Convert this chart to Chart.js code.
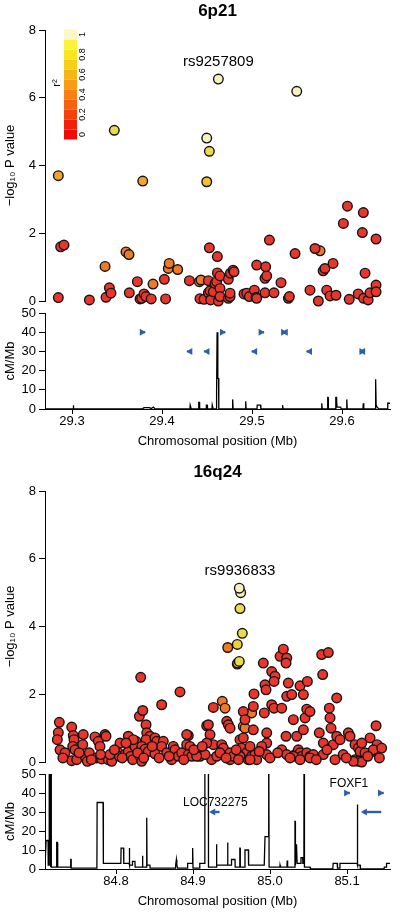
<!DOCTYPE html>
<html>
<head>
<meta charset="utf-8">
<script src="https://cdn.jsdelivr.net/npm/chart.js@4.4.1/dist/chart.umd.min.js"></script>
<style>
    html, body { margin: 0; padding: 0; background: #fff; }
    #wrap { position: relative; width: 400px; height: 913px; overflow: hidden; }
    canvas { position: absolute; left: 0; }
</style>
</head>
<body>
<div id="wrap">
    <canvas id="assoc1" width="400" height="320" style="top:0px;z-index:1"></canvas>
    <canvas id="recomb1" width="400" height="150" style="top:300px;z-index:2"></canvas>
    <canvas id="assoc2" width="400" height="320" style="top:460px;z-index:1"></canvas>
    <canvas id="recomb2" width="400" height="150" style="top:760px;z-index:2"></canvas>
</div>
<script>
// ---------- 6p21 ----------
var pos1 = [
    29.2848,29.2874,29.2911,29.3193,29.3378,29.3415,29.3433,29.3637,29.3726,29.3756,
    29.3774,29.3800,29.3822,29.3880,29.4026,29.4040,29.4304,29.4422,29.4467,29.4526,
    29.4515,29.4515,29.4533,29.4540,29.4570,29.4589,29.4607,29.4615,29.4615,29.4626,
    29.4644,29.4644,29.4644,29.4737,29.4737,29.4756,29.4756,29.4760,29.4790,29.4800,
    29.4911,29.4941,29.4970,29.5026,29.5044,29.5052,29.5052,29.5144,29.5163,29.5152,
    29.5144,29.5193,29.5244,29.5322,29.5404,29.5415,29.5478,29.5644,29.5700,29.5737,
    29.5790,29.5810,29.5830,29.5867,29.5900,29.5933,29.6015,29.6060,29.6080,29.6180,
    29.6226,29.6237,29.6240,29.6256,29.6290,29.6310,29.6378,29.6378,29.6378
];
var logp1 = [
    0.10,1.60,1.65,0.03,0.11,0.39,0.23,0.24,0.57,0.06,
    0.08,0.21,0.13,0.06,0.64,0.06,0.60,0.07,0.05,1.57,
    0.24,0.60,0.30,0.03,0.27,0.52,0.57,1.31,0.83,0.00,
    0.74,0.37,0.13,0.64,0.08,0.13,0.23,0.82,0.91,0.86,
    0.21,0.23,0.13,0.32,0.11,1.06,0.08,0.67,0.74,1.01,
    0.24,1.80,0.24,0.54,0.08,0.13,1.40,0.32,1.55,0.00,
    0.89,0.96,0.32,0.15,1.11,0.17,2.29,2.80,0.05,0.21,
    2.02,2.61,0.08,0.82,0.03,0.24,1.83,0.47,0.27
];
var ldPos1  = [29.2848,29.3367,29.3470,29.3600,29.3633,29.3786,29.3900,29.4070,29.4080,29.4174,29.4415,29.4433,29.5756,29.4497,29.4497,29.4526,29.5497,29.4626];
var ldLogp1 = [3.70,1.02,5.04,1.45,1.37,3.54,0.50,0.96,1.11,0.93,0.57,0.62,1.48,4.81,3.52,4.42,6.19,6.55];
var ldR2_1  = [0.5,0.3,0.8,0.3,0.3,0.5,0.3,0.3,0.3,0.3,0.3,0.3,0.3,1.0,0.65,0.8,1.0,1.0];

var recPos1 = [
    29.27,29.3012,29.3013,29.3018,29.3019,29.378,29.380,29.386,29.388,29.3905,29.391,29.392,
    29.431,29.4313,29.4322,29.4325,29.4405,29.4408,29.4415,29.4418,29.449,29.4493,29.4502,29.4505,
    29.4555,29.4558,29.4565,29.4568,29.4600,29.4603,29.4610,29.4612,29.4619,29.4621,29.4628,29.4631,
    29.478,29.4783,29.4787,29.479,29.4925,29.4928,29.4932,29.4935,29.5055,29.5058,29.5095,29.5098,
    29.5335,29.5338,29.5342,29.5345,29.577,29.5773,29.5777,29.578,29.5838,29.5841,29.5845,29.5848,
    29.5928,29.5931,29.5938,29.594,29.5945,29.5985,29.599,29.6048,29.6051,29.6055,29.6058,
    29.6233,29.6236,29.624,29.6243,29.6368,29.6371,29.6376,29.6379,29.639,29.641,29.6505,29.6508,29.6533
];
var recRate1 = [
    0,0,2,2,0,0,0.7,0.7,0.2,1,1,0.2,
    0,2,2,0,0,3.5,3.5,0,0,2,2,0,
    0,2,2,0,0,9,9,40,40,16,16,0,
    0,5,5,0,0,4,4,0,0,2,2,0,
    0,2,2,0,0,3,3,0,0,6,6,0,
    0,6,6,4,1,1,0,0,5,5,0,
    0,3,3,0,0,15.5,15.5,2,1,0,0,3,3
];

var geneStart1 = [29.379,29.468,29.511,29.533,29.427,29.446,29.499,29.560,29.619];
var geneEnd1   = [29.382,29.471,29.514,29.539,29.430,29.449,29.502,29.563,29.626];
var geneRow1   = [40,40,40,40,30,30,30,30,30];
var geneDir1   = [1,1,1,0,-1,-1,-1,-1,0];
var geneName1  = ['','','','','','','','',''];

// ---------- 16q24 ----------
var pos2 = [
    84.7264,84.7251,84.7238,84.7273,84.7338,84.7425,84.7445,84.7455,84.7438,84.7468,
    84.7425,84.7490,84.7575,84.7568,84.7597,84.7627,84.7653,84.7727,84.7770,84.7792,
    84.7749,84.7814,84.7857,84.7870,84.7900,84.7944,84.8030,84.8043,84.8117,84.8160,
    84.8191,84.8182,84.8260,84.8247,84.8217,84.8312,84.8303,84.8347,84.8321,84.8390,
    84.8399,84.8442,84.8390,84.8334,84.8377,84.8419,84.8334,84.8506,84.8529,84.8506,
    84.8593,84.8614,84.8593,84.8658,84.8744,84.8766,84.8723,84.8831,84.8809,84.8853,
    84.8939,84.8918,84.8961,84.8939,84.8983,84.9091,84.9178,84.9199,84.9221,84.9264,
    84.9264,84.9242,84.9308,84.9373,84.9394,84.9438,84.9459,84.9481,84.9481,84.9481,
    84.9524,84.9610,84.9653,84.9632,84.9653,84.9675,84.9697,84.9718,84.9762,84.9783,
    84.9792,84.9783,84.9805,84.9827,84.9913,84.9935,84.9948,84.9926,84.9957,84.9957,
    84.9892,84.9957,85.0000,85.0022,85.0065,85.0052,85.0022,85.0052,85.0152,85.0130,
    85.0173,85.0217,85.0208,85.0238,85.0217,85.0282,85.0208,85.0152,85.0217,85.0303,
    85.0347,85.0325,85.0368,85.0390,85.0412,85.0390,85.0433,85.0455,85.0433,85.0485,
    85.0477,85.0519,85.0477,85.0519,85.0562,85.0640,85.0671,85.0684,85.0692,85.0692,
    85.0757,85.0770,85.0779,85.0792,85.0822,85.0844,85.0866,85.0866,85.0909,85.1017,
    85.1039,85.1104,85.1147,85.1104,85.1147,85.1191,85.1169,85.1234,85.1299,85.1364,
    85.1377,85.1390,84.9156,84.9610,84.9740,85.0303,85.0390,85.0519,85.1082,85.1341,
    85.1191,84.8918,84.8052,84.8160,84.8225,84.9048,84.9178,84.7922,84.7310,84.7520,
    84.7680,84.7800,84.7980,84.8080,84.8130,84.8280,84.8360,84.8470,84.8560,84.8690,
    84.8880,84.9010,84.9120,84.9350,84.9430,84.9560,84.9590,84.9740,84.9860,85.0100,
    85.0260,85.0600,85.0740,85.0950,85.0990,85.1270,85.1420,85.1450
];
var logp2 = [
    1.17,0.87,0.66,0.36,0.27,1.03,0.78,0.66,0.46,0.36,
    0.04,0.07,0.81,0.51,0.17,0.02,0.27,0.74,0.61,0.46,
    0.12,0.09,0.81,0.76,0.07,0.02,0.27,0.17,0.22,0.31,
    0.17,0.68,0.61,0.46,0.07,0.17,1.35,1.52,2.50,1.10,
    0.86,0.76,0.66,0.46,0.38,0.31,0.02,0.71,0.61,0.24,
    1.69,0.61,0.46,0.27,0.46,0.36,0.07,2.07,0.17,0.27,
    0.78,0.51,0.46,0.22,0.17,0.17,1.07,1.10,0.81,0.51,
    1.61,0.07,0.17,0.51,0.41,1.20,1.10,1.00,0.27,0.07,
    0.17,0.66,0.71,0.41,1.49,1.25,0.27,0.07,0.17,0.95,
    2.01,1.64,0.22,0.07,2.92,2.28,2.13,1.45,0.86,0.56,
    0.46,0.22,0.12,2.67,2.53,2.38,1.69,1.59,1.59,3.12,
    3.33,3.07,2.92,2.33,1.94,1.99,0.76,0.36,0.22,1.25,
    0.76,0.22,0.36,0.27,0.17,2.25,1.99,1.30,0.95,2.38,
    1.56,1.49,0.27,0.17,0.22,0.86,3.17,2.58,0.56,0.22,
    3.23,1.59,1.30,1.00,0.51,0.07,1.89,0.76,0.66,0.86,
    0.76,0.51,0.41,0.07,0.02,0.00,0.31,0.27,0.71,0.31,
    1.07,0.51,0.22,0.17,0.07,0.17,0.07,0.12,0.02,0.36,
    0.56,0.81,0.56,0.76,0.66,0.17,0.56,0.22,0.12,0.27,
    0.07,0.22,0.36,0.12,0.56,0.27,0.12,0.46,0.12,0.17,
    0.07,0.36,0.46,0.27,0.12,0.36,0.07,0.46,0.31,0.27,
    0.12,0.07,0.36,0.22,0.12,0.17,0.12,0.41
];
var ldPos2  = [84.9653,84.9762,84.9380,84.9416,84.9675,84.9451,84.9575,84.9580,84.9601,84.9575,84.9640,84.9610,84.9619,84.9601];
var ldLogp2 = [1.05,1.45,1.79,1.59,1.00,3.38,2.89,2.92,2.97,3.47,3.80,4.53,5.00,5.13];
var ldR2_2  = [0.4,0.4,0.4,0.4,0.4,0.4,0.7,0.75,0.8,0.75,0.85,0.85,1.0,1.0];

var recPos2 = [
    84.7078,84.7090,84.7092,84.7118,84.7120,84.7131,84.7133,84.7144,84.7146,84.7153,84.7155,84.7158,84.7160,
    84.7228,84.7230,84.7238,84.7240,84.7243,84.7246,84.7410,84.7412,84.7416,84.7418,
    84.7745,84.7752,84.7755,84.7832,84.7836,84.8063,84.8066,84.8098,84.8101,84.8170,84.8172,84.8176,84.8178,
    84.8212,84.8214,84.8246,84.8248,84.8340,84.8343,84.8347,84.8349,84.8395,84.8397,84.8401,84.8403,84.8440,84.8443,
    84.8770,84.8774,84.8784,84.8790,84.8800,84.8925,84.8930,84.8990,84.8993,84.8998,84.9000,
    84.9085,84.9088,84.9152,84.9154,84.9199,84.9201,84.9300,84.9303,84.9308,84.9310,
    84.9445,84.9448,84.9452,84.9454,84.9498,84.9500,84.9545,84.9548,84.9606,84.9608,84.9612,84.9614,
    84.9672,84.9675,84.9719,84.9722,84.9925,84.9935,84.9975,84.9980,84.9986,84.9988,
    85.0128,85.0130,85.0134,85.0136,85.0220,85.0223,85.0227,85.0230,85.0322,85.0324,85.0328,85.0330,85.0344,85.0348,85.0352,
    85.0400,85.0402,85.0424,85.0426,85.0440,85.0442,85.0446,85.0448,85.0520,85.0525,
    85.0815,85.0820,85.0872,85.0876,85.0905,85.0908,85.1130,85.1132,85.1137,85.1140,85.1170,85.1173,
    85.1480,85.1485,85.1510,85.1513,85.1558
];
var recRate2 = [
    1,1,15,15,2,2,80,80,1,1,80,80,1,
    1,14,14,3,5,1,1,5,5,0.5,
    0.5,2,35,35,3,3,11,11,3,3,11,11,2,
    2,4,4,1,1,7,7,1,1,27,27,2,2,0.5,
    0.5,2,5,2,0.5,0.5,3,3,11,11,0.5,
    0.5,3,3,80,80,1,1,13,13,2,
    2,14,14,2,2,5,5,1,1,11,11,1,
    1,10,10,2,2,17,17,80,80,1,
    1,2,2,1,1,4.5,4.5,1,1,25,25,2,13,13,3,
    3,6,6,3,3,80,80,1,1,0,
    0,3,3,0.5,0.5,3,3,34,34,2,2,0,
    0,1,1,3,3
];

var geneStart2 = [84.921,85.101,85.145,85.118];
var geneEnd2   = [84.937,85.104,85.148,85.147];
var geneRow2   = [30,40,40,30];
var geneDir2   = [-1,1,1,-1];
var geneName2  = ['LOC732275','FOXF1','',''];

// ---------- axes ----------
var assocTicks = [0, 2, 4, 6, 8];
var recombTicks = [0, 10, 20, 30, 40, 50];
var xTicks1 = [29.3, 29.4, 29.5, 29.6];
var xTicks2 = [84.8, 84.9, 85.0, 85.1];
var r2LegendTicks = [0, 0.2, 0.4, 0.6, 0.8, 1];

var legendColours = ['#F00A0A','#F2200C','#F5400E','#F86010','#FA7E12','#F99B14','#F8B616','#F8CF18','#F8E61E','#FAF23C','#FCF7C6'];

Chart.defaults.font.family = "'Liberation Sans', Arial, Helvetica, sans-serif";
Chart.defaults.color = '#000';

function ldColour(r) {
    if (r >= 0.9) return '#F6F1C1';
    if (r >= 0.8) return '#EBDA4C';
    if (r >= 0.7) return '#EFCF42';
    if (r >= 0.6) return '#F2BE38';
    if (r >= 0.45) return '#F3A22F';
    if (r >= 0.25) return '#EE7A28';
    return '#E8362D';
}

function toPoints(xs, ys) {
    return xs.map(function(x, i) { return {x: x, y: ys[i]}; });
}

function fixedTicks(list) {
    return function(scale) {
        scale.ticks = list.map(function(v) { return {value: v}; });
    };
}

function yAxis(ticks, max, title) {
    return {
        min: 0,
        max: max,
        afterFit: function(s) { s.width = 45; },
        afterBuildTicks: fixedTicks(ticks),
        border: {display: true, color: '#000', width: 1},
        grid: {drawOnChartArea: false, drawTicks: true, tickLength: 6, color: '#000'},
        ticks: {padding: 3, font: {size: 13}, color: '#000', autoSkip: false},
        title: {display: true, text: title, font: {size: 13}, color: '#000', padding: {top: 3, bottom: 0}}
    };
}

function panelText(title, leadX, leadY, leadName, withLegend) {
    return {
        id: 'panelText',
        afterDraw: function(chart) {
            var ctx = chart.ctx, area = chart.chartArea;
            var xs = chart.scales.x, ys = chart.scales.y;
            ctx.save();
            ctx.fillStyle = '#000';
            ctx.textAlign = 'center';
            ctx.textBaseline = 'middle';
            ctx.font = "bold 17px 'Liberation Sans', Arial, sans-serif";
            ctx.fillText(title, (area.left + area.right) / 2, area.top - 19);
            ctx.font = "15px 'Liberation Sans', Arial, sans-serif";
            ctx.fillText(leadName, xs.getPixelForValue(leadX), ys.getPixelForValue(leadY) - 17);
            if (withLegend) {
                for (var k = 0; k < legendColours.length; k++) {
                    ctx.fillStyle = legendColours[k];
                    ctx.fillRect(64, 129.5 - k * 10, 13, 10);
                }
                ctx.fillStyle = '#000';
                ctx.font = "9px 'Liberation Sans', Arial, sans-serif";
                r2LegendTicks.forEach(function(v) {
                    ctx.save();
                    ctx.translate(83, 134.5 - v * 100);
                    ctx.rotate(-Math.PI / 2);
                    ctx.fillText(String(v), 0, 0);
                    ctx.restore();
                });
                ctx.save();
                ctx.font = "11px 'Liberation Sans', Arial, sans-serif";
                ctx.translate(57, 83);
                ctx.rotate(-Math.PI / 2);
                ctx.fillText('r\u00B2', 0, 0);
                ctx.restore();
            }
            ctx.restore();
        }
    };
}

function genePlugin(starts, ends, rows, dirs, names) {
    return {
        id: 'genes',
        afterDatasetsDraw: function(chart) {
            var ctx = chart.ctx, xs = chart.scales.x, ys = chart.scales.y;
            ctx.save();
            ctx.strokeStyle = '#2F5EA8';
            ctx.fillStyle = '#2F5EA8';
            ctx.lineWidth = 2.4;
            for (var i = 0; i < starts.length; i++) {
                var x1 = xs.getPixelForValue(starts[i]);
                var x2 = xs.getPixelForValue(ends[i]);
                var y = ys.getPixelForValue(rows[i]);
                ctx.beginPath();
                ctx.moveTo(x1 + 2, y);
                ctx.lineTo(x2 - 2, y);
                ctx.stroke();
                if (dirs[i] <= 0) {
                    ctx.beginPath();
                    ctx.moveTo(x1, y);
                    ctx.lineTo(x1 + 6, y - 3.5);
                    ctx.lineTo(x1 + 6, y + 3.5);
                    ctx.closePath();
                    ctx.fill();
                }
                if (dirs[i] >= 0) {
                    ctx.beginPath();
                    ctx.moveTo(x2, y);
                    ctx.lineTo(x2 - 6, y - 3.5);
                    ctx.lineTo(x2 - 6, y + 3.5);
                    ctx.closePath();
                    ctx.fill();
                }
            }
            ctx.fillStyle = '#000';
            ctx.textAlign = 'center';
            ctx.textBaseline = 'middle';
            ctx.font = "12px 'Liberation Sans', Arial, sans-serif";
            for (var j = 0; j < names.length; j++) {
                if (!names[j]) continue;
                var cx = (xs.getPixelForValue(starts[j]) + xs.getPixelForValue(ends[j])) / 2;
                ctx.fillText(names[j], cx, ys.getPixelForValue(rows[j]) - 9);
            }
            ctx.restore();
        }
    };
}

function assocChart(id, redX, redY, ldX, ldY, ldR2, xMin, xMax, padTop, padBottom, textPlugin) {
    var pointStyle = {
        pointRadius: 4.8,
        pointHoverRadius: 4.8,
        pointBorderWidth: 1.4,
        pointBorderColor: '#141414',
        clip: false
    };
    return new Chart(document.getElementById(id), {
        type: 'scatter',
        data: {
            datasets: [
                Object.assign({data: toPoints(redX, redY), pointBackgroundColor: '#E8362D'}, pointStyle),
                Object.assign({data: toPoints(ldX, ldY), pointBackgroundColor: ldR2.map(ldColour)}, pointStyle)
            ]
        },
        options: {
            responsive: false,
            animation: false,
            events: [],
            layout: {padding: {top: padTop, bottom: padBottom, left: 0, right: 10}},
            plugins: {legend: {display: false}, tooltip: {enabled: false}},
            scales: {
                x: {type: 'linear', display: false, min: xMin, max: xMax},
                y: yAxis(assocTicks, 8, '\u2212log\u2081\u2080 P value')
            }
        },
        plugins: [textPlugin]
    });
}

function recombChart(id, recX, recY, xMin, xMax, xTicks, padTop, genes) {
    return new Chart(document.getElementById(id), {
        type: 'line',
        data: {
            datasets: [{
                data: toPoints(recX, recY),
                borderColor: '#000',
                borderWidth: 1.3,
                pointRadius: 0,
                tension: 0,
                fill: false
            }]
        },
        options: {
            responsive: false,
            animation: false,
            events: [],
            layout: {padding: {top: padTop, bottom: 0, left: 0, right: 10}},
            plugins: {legend: {display: false}, tooltip: {enabled: false}},
            scales: {
                x: {
                    type: 'linear',
                    min: xMin,
                    max: xMax,
                    afterFit: function(s) { s.height = 41; },
                    afterBuildTicks: fixedTicks(xTicks),
                    border: {display: true, color: '#000', width: 1},
                    grid: {drawOnChartArea: false, drawTicks: true, tickLength: 5, color: '#000'},
                    ticks: {padding: 0, font: {size: 13}, color: '#000', maxRotation: 0, autoSkip: false,
                        callback: function(v) { return Number(v).toFixed(1); }},
                    title: {display: true, text: 'Chromosomal position (Mb)', font: {size: 13}, color: '#000',
                        padding: {top: 0, bottom: 1}}
                },
                y: yAxis(recombTicks, 50, 'cM/Mb')
            }
        },
        plugins: [genes]
    });
}

recombChart('recomb1', recPos1, recRate1, 29.27, 29.6533, xTicks1, 13,
    genePlugin(geneStart1, geneEnd1, geneRow1, geneDir1, geneName1));
assocChart('assoc1', pos1, logp1, ldPos1, ldLogp1, ldR2_1, 29.27, 29.6533, 30, 19,
    panelText('6p21', 29.4626, 6.55, 'rs9257809', true));

recombChart('recomb2', recPos2, recRate2, 84.7078, 85.1558, xTicks2, 14,
    genePlugin(geneStart2, geneEnd2, geneRow2, geneDir2, geneName2));
assocChart('assoc2', pos2, logp2, ldPos2, ldLogp2, ldR2_2, 84.7078, 85.1558, 31, 18,
    panelText('16q24', 84.9610, 5.13, 'rs9936833', false));
</script>
</body>
</html>
